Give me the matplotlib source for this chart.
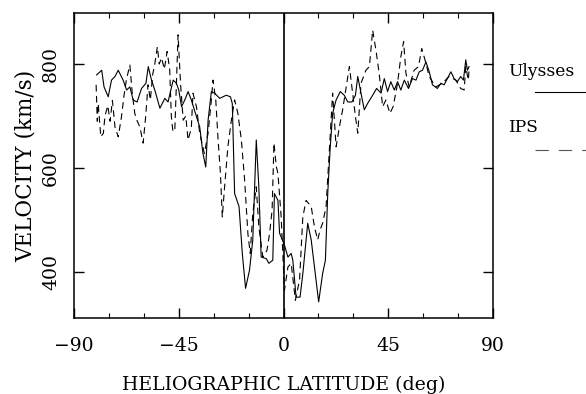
import matplotlib
matplotlib.use('Agg')
from matplotlib import pyplot as plt
from matplotlib.lines import Line2D
from matplotlib.ticker import MultipleLocator

# Ulysses solar wind speed vs heliographic latitude
ulysses_lat = [-80.3, -78.1, -77.1, -75.3, -73.9, -72.4, -71.0, -68.9, -67.4, -66.0,
               -64.6, -62.9, -61.0, -59.1, -58.1, -56.7, -55.3, -53.1, -51.0, -49.6,
               -47.4, -46.0, -45.0, -43.8, -42.4, -41.0, -39.6, -37.4, -36.0, -34.6,
               -33.4, -32.4, -31.0, -29.6, -27.4, -26.0, -24.6, -22.8, -22.0, -21.0,
               -19.1, -17.7, -16.3, -14.6, -13.2, -11.7, -10.6, -9.6, -7.4, -6.3,
               -4.6, -3.9, -2.4, -1.7, 0.4, 1.9, 3.3, 4.0, 5.4, 7.1,
               8.3, 10.4, 11.9, 13.3, 15.1, 16.8, 18.0, 19.0, 20.0, 21.1,
               22.6, 24.4, 26.1, 27.6, 29.4, 30.9, 31.9, 33.3, 34.7, 36.1,
               38.3, 40.0, 41.9, 43.3, 44.7, 46.1, 47.6, 49.0, 50.4, 51.9,
               53.7, 55.4, 56.9, 58.3, 59.7, 61.2, 62.6, 64.0, 66.1, 67.6,
               69.0, 70.4, 71.9, 73.3, 74.7, 76.1, 77.3, 78.3, 79.0, 79.7]
ulysses_vel = [779, 788, 756, 737, 769, 776, 788, 769, 750, 756,
               731, 727, 753, 763, 795, 769, 750, 715, 734, 727,
               769, 763, 750, 718, 731, 747, 731, 699, 679, 628,
               602, 692, 747, 744, 734, 737, 740, 737, 724, 551,
               526, 436, 369, 404, 462, 654, 564, 429, 426, 417,
               423, 551, 538, 475, 452, 429, 436, 423, 352, 352,
               397, 494, 462, 410, 343, 397, 423, 551, 635, 705,
               731, 747, 740, 727, 727, 740, 776, 744, 712, 724,
               740, 753, 744, 772, 747, 766, 750, 766, 750, 769,
               753, 772, 769, 785, 788, 804, 785, 760, 753, 763,
               760, 772, 785, 772, 766, 776, 769, 808, 788, 795]

# IPS (interplanetary scintillation) speeds
ips_lat = [-80.5, -80.0, -79.6, -78.5, -77.4, -76.7, -75.5, -74.5, -73.5, -72.4,
           -71.0, -69.6, -68.5, -67.5, -66.0, -65.0, -63.9, -62.8, -61.7, -60.3,
           -59.2, -58.2, -57.2, -56.2, -55.3, -54.2, -53.4, -52.4, -51.2, -50.0,
           -48.9, -48.2, -47.5, -46.7, -45.8, -45.3, -44.2, -43.1, -42.0, -41.0,
           -39.6, -38.9, -37.4, -36.0, -34.0, -32.4, -31.0, -30.3, -29.1, -28.1,
           -27.1, -26.3, -25.3, -23.9, -22.4, -21.0, -19.6, -18.1, -16.7, -15.3,
           -14.3, -13.2, -11.7, -10.6, -8.9, -7.1, -6.0, -4.9, -4.1, -3.1,
           -2.4, -1.0, 0.4, 1.9, 3.3, 5.1, 6.9, 8.3, 9.7, 11.9,
           13.3, 14.7, 15.7, 16.8, 18.3, 19.7, 21.1, 22.6, 24.0, 25.4,
           28.3, 29.7, 30.9, 31.9, 33.3, 35.4, 36.9, 38.3, 39.7, 41.1,
           42.6, 44.0, 45.7, 47.1, 49.0, 50.4, 51.6, 52.6, 54.0, 56.1,
           58.0, 59.4, 61.2, 62.6, 65.4, 68.3, 71.1, 74.0, 76.1, 77.6,
           78.3, 79.4, 79.7]
ips_vel = [760, 690, 724, 660, 667, 700, 720, 690, 730, 679,
           660, 699, 740, 770, 798, 745, 705, 690, 679, 648,
           700, 760, 731, 780, 800, 833, 800, 812, 790, 824,
           790, 700, 670, 673, 790, 856, 760, 692, 700, 654,
           677, 744, 718, 667, 628, 667, 731, 769, 731, 654,
           590, 506, 564, 641, 692, 731, 705, 654, 577, 474,
           436, 513, 564, 487, 429, 442, 474, 519, 648, 603,
           590, 506, 365, 410, 417, 346, 385, 506, 538, 526,
           487, 462, 481, 494, 526, 635, 744, 641, 679, 712,
           795, 744, 699, 667, 763, 788, 795, 865, 827, 782,
           718, 731, 705, 718, 763, 814, 843, 782, 756, 788,
           795, 830, 801, 776, 756, 763, 776, 769, 753, 750,
           795, 769, 788]

x_major = [-90, -45, 0, 45, 90]
y_major = [400, 600, 800]

plt.rcParams['font.family'] = ['DejaVu Serif']

fig = plt.figure(figsize=(5.86, 3.94), dpi=100)
ax = fig.add_axes([0.1263, 0.193, 0.715, 0.774])

ax.plot(ulysses_lat, ulysses_vel, color='black', linewidth=0.8)
ax.plot(ips_lat, ips_vel, color='black', linewidth=0.8, linestyle=(0, (6, 4)))
ax.axvline(0, color='black', linewidth=1.2)

ax.set_xlim(-90, 90)
ax.set_ylim(312, 898)
ax.set_xticks(x_major)
ax.set_xticklabels(['\u221290', '\u221245', '0', '45', '90'])
ax.xaxis.set_minor_locator(MultipleLocator(15))
ax.set_yticks(y_major)

ax.tick_params(which='major', direction='in', length=7.2, width=1.0,
               top=True, right=True, labelsize=13.5)
ax.tick_params(axis='x', which='major', pad=14)
ax.tick_params(axis='y', which='major', pad=10, labelrotation=90)
for lbl in ax.get_yticklabels():
    lbl.set_va('center')
ax.tick_params(which='minor', direction='in', length=3.6, width=0.8,
               top=True, right=False)
ax.tick_params(axis='y', which='minor', left=False, right=False)
for s in ax.spines.values():
    s.set_linewidth(1.1)

ax.set_xlabel('HELIOGRAPHIC LATITUDE (deg)', fontsize=13.6)
ax.xaxis.set_label_coords(0.5, -0.19)
ax.set_ylabel('VELOCITY (km/s)', fontsize=15.5)
ax.yaxis.set_label_coords(-0.088, 0.5)

# legend drawn outside the axes on the right
fig.text(508 / 586, 1 - 72 / 394, 'Ulysses', fontsize=12.3, va='center', ha='left')
fig.add_artist(Line2D([535 / 586, 1.0], [1 - 92 / 394] * 2, color='black', linewidth=0.8))
fig.text(508 / 586, 1 - 128 / 394, 'IPS', fontsize=12.3, va='center', ha='left')
fig.add_artist(Line2D([535 / 586, 1.0], [1 - 150 / 394] * 2, color='#555555', linewidth=0.8,
                      linestyle=(0, (12, 9))))

fig.savefig('out.png', dpi=100)
